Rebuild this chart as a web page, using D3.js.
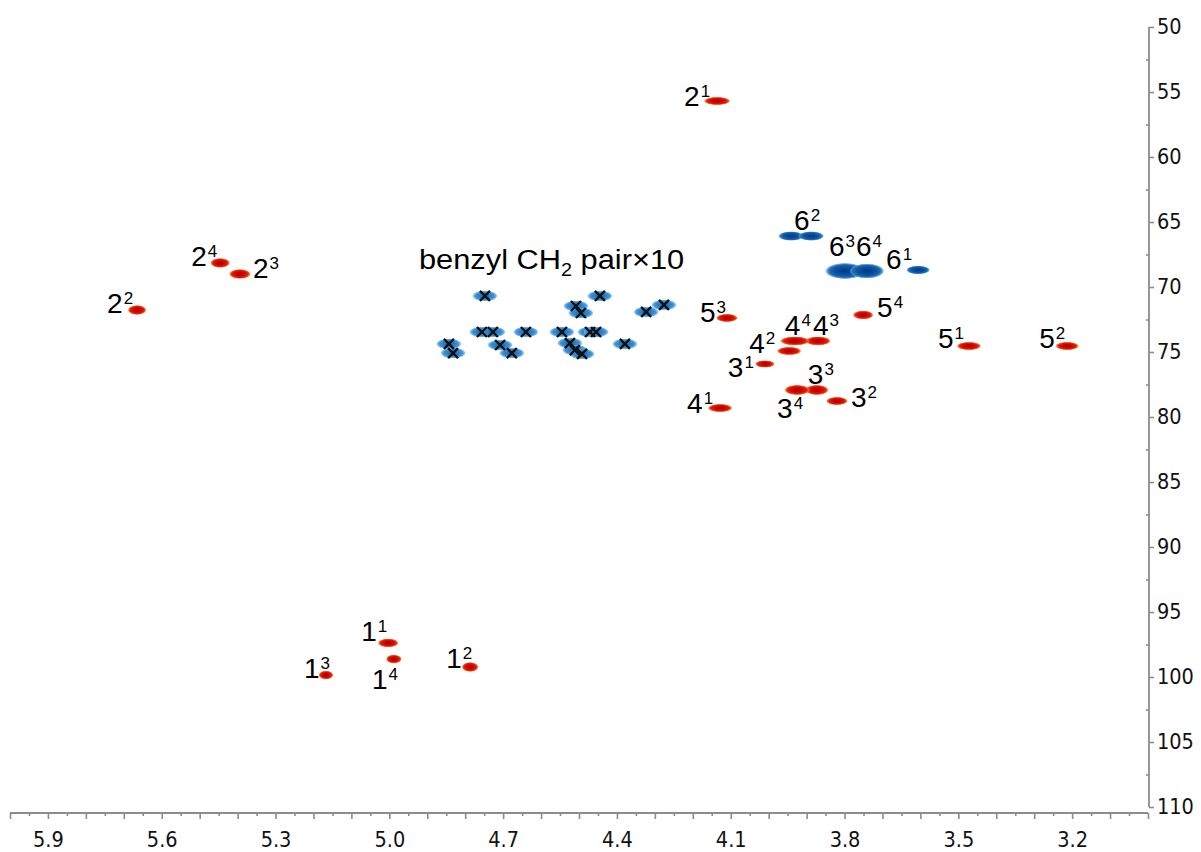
<!DOCTYPE html>
<html>
<head>
<meta charset="utf-8">
<script src="https://cdn.jsdelivr.net/npm/d3@7/dist/d3.min.js"></script>
<style>
  body { margin: 0; background: #fff; }
  svg { display: block; }
</style>
</head>
<body>
<svg id="chart" width="1201" height="852"></svg>
<script>
// ---- HSQC cross peaks (1H ppm, 13C ppm) ----
// ring CH cross peaks, named residue^unit
const ringNames = ["2^1","2^2","2^3","2^4","1^1","1^2","1^3","1^4",
                   "3^1","3^2","3^3","3^4","4^1","4^2","4^3","4^4",
                   "5^1","5^2","5^3","5^4"];
const ringH = [4.136, 5.665, 5.394, 5.446, 5.003, 4.787, 5.167, 4.988,
               4.010, 3.820, 3.873, 3.925, 4.128, 3.946, 3.870, 3.931,
               3.472, 3.213, 4.110, 3.751];
const ringC = [55.69, 71.77, 69.00, 68.15, 97.38, 99.23, 99.85, 98.62,
               75.92, 78.77, 77.92, 77.92, 79.31, 74.92, 74.15, 74.15,
               74.54, 74.54, 72.38, 72.15];

// CH2 (C6) cross peaks, 6^2 shows both protons
const c6Names = ["6^1","6^2","6^2","6^3","6^4"];
const c6H = [3.606, 3.941, 3.888, 3.799, 3.741];
const c6C = [68.69, 66.08, 66.08, 68.77, 68.77];

// benzyl CH2 protons (10 pairs)
const benzylH = [4.748, 4.445, 4.508, 4.495, 4.323, 4.276, 4.756, 4.727, 4.640, 4.545,
                 4.471, 4.455, 4.843, 4.832, 4.708, 4.677, 4.524, 4.511, 4.492, 4.379];
const benzylC = [70.69, 70.69, 71.46, 72.00, 71.92, 71.38, 73.46, 73.46, 73.46, 73.46,
                 73.46, 73.46, 74.38, 75.08, 74.46, 75.08, 74.31, 74.85, 75.15, 74.38];

// axis ticks
const xTickLabels = [5.9, 5.6, 5.3, 5.0, 4.7, 4.4, 4.1, 3.8, 3.5, 3.2];
const yTickLabels = [50, 55, 60, 65, 70, 75, 80, 85, 90, 95, 100, 105, 110];
const benzylNote = ["benzyl CH", "2", " pair×10"];

// ---- layout / styling ----
const W = 1201, H = 852;
const axisColor = "#8c8c8c";
const x = d3.scaleLinear().domain([6.0, 3.0]).range([10, 1148]);
const y = d3.scaleLinear().domain([50, 110]).range([27, 807]);
const xAxisY = 813, yAxisX = 1149;

// blob half-sizes in px
const blobSize = {
  "2^1":[13.5,4.2], "2^2":[9.5,5], "2^3":[11,5], "2^4":[10,5],
  "1^1":[10.5,4.5], "1^2":[8.5,5], "1^3":[7.5,4.5], "1^4":[8,4.5],
  "3^1":[10,3.8], "3^2":[11,4.2], "3^3":[12,5.2], "3^4":[13,5.2],
  "4^1":[12.5,4.2], "4^2":[12.5,4.2], "4^3":[13,4.6], "4^4":[15,4.6],
  "5^1":[12.5,4.2], "5^2":[12,4.2], "5^3":[11,4.2], "5^4":[10.5,4.5],
  "6^1":[12,4.4], "6^2":[13,4.8], "6^3":[20,8.2], "6^4":[17.5,7.6]
};
// label offset of main digit (start x, baseline) from the peak centre, px
const labelOffset = {
  "2^1":[-33,5], "2^4":[-29,3], "2^3":[13,4], "2^2":[-30,3],
  "1^1":[-27,-2], "1^4":[-22,30], "1^3":[-22,3], "1^2":[-24,1],
  "5^3":[-27,4], "5^4":[14,2], "4^4":[-10,-6], "4^3":[-5,-6],
  "4^2":[-40,2], "3^1":[-37,13], "3^3":[-9,-6], "3^4":[-20,28],
  "3^2":[14,6], "4^1":[-33,5], "5^1":[-31,2], "5^2":[-28,2],
  "6^2":[3,-6], "6^3":[-16,-15], "6^4":[-11,-15], "6^1":[-32,-1]
};

const svg = d3.select("#chart");
const defs = svg.append("defs");

function radial(id, stops) {
  const g = defs.append("radialGradient").attr("id", id)
    .attr("cx", "50%").attr("cy", "50%").attr("r", "50%");
  stops.forEach(s => g.append("stop").attr("offset", s[0])
    .attr("stop-color", s[1]).attr("stop-opacity", s[2]));
}
radial("gRed", [["0%","#a60000",1],["45%","#cf0700",1],["72%","#e81c00",1],
                ["88%","#f25a1e",0.85],["100%","#f8b070",0]]);
radial("gBlue6", [["0%","#003c86",1],["50%","#0b4f9c",1],["78%","#1c6bb6",1],
                  ["92%","#4f98d6",0.7],["100%","#8cc0ea",0]]);
radial("gBlueBz", [["0%","#1a5fae",1],["40%","#2a7cc6",1],["72%","#3d92d6",1],
                   ["88%","#6cb0e4",0.8],["100%","#a8d2f2",0]]);
defs.append("filter").attr("id", "soft")
  .attr("x", "-20%").attr("y", "-40%").attr("width", "140%").attr("height", "180%")
  .append("feGaussianBlur").attr("stdDeviation", 0.6);

// ---- axes ----
const axes = svg.append("g").attr("class", "axes");
const fontAxis = "'DejaVu Sans Condensed','DejaVu Sans',sans-serif";

// x axis: minor ticks every 0.05, longer every 0.1
const xMinor = d3.range(0, 61).map(i => +(6.0 - i * 0.05).toFixed(2));
const gx = axes.append("g").attr("transform", `translate(0,${xAxisY})`);
gx.append("line").attr("x1", x(6.0)).attr("x2", x(3.0))
  .attr("stroke", axisColor).attr("stroke-width", 1.8);
gx.call(d3.axisBottom(x).tickValues(xMinor.filter((v, i) => i % 2 === 1))
  .tickSize(3).tickSizeOuter(0).tickFormat(""));
gx.call(g => g.selectAll(".domain").remove());
const gx2 = axes.append("g").attr("transform", `translate(0,${xAxisY})`);
gx2.call(d3.axisBottom(x).tickValues(xMinor.filter((v, i) => i % 2 === 0))
  .tickSize(6).tickSizeOuter(0).tickFormat(""));
gx2.call(g => g.selectAll(".domain").remove());
const gxl = axes.append("g").attr("transform", `translate(0,${xAxisY})`);
gxl.call(d3.axisBottom(x).tickValues(xTickLabels).tickSize(0).tickPadding(19)
  .tickFormat(d3.format(".1f")));
gxl.call(g => g.selectAll(".domain").remove());
[gx, gx2].forEach(g => g.selectAll(".tick line").attr("stroke", axisColor).attr("stroke-width", 1.6));
gxl.selectAll("text").attr("font-family", fontAxis).attr("font-size", 21.5)
  .attr("fill", "#111");

// y axis on the right
const gy = axes.append("g").attr("transform", `translate(${yAxisX},0)`);
gy.append("line").attr("y1", y(50)).attr("y2", y(110))
  .attr("stroke", axisColor).attr("stroke-width", 1.8);
gy.call(d3.axisRight(y).tickValues(yTickLabels).tickSize(5).tickSizeOuter(0).tickPadding(3)
  .tickFormat(d3.format("d")));
gy.call(g => g.selectAll(".domain").remove());
gy.selectAll(".tick line").attr("stroke", axisColor).attr("stroke-width", 1.6);
gy.selectAll("text").attr("font-family", fontAxis).attr("font-size", 21.5).attr("fill", "#111");
const gyMinor = axes.append("g").attr("transform", `translate(${yAxisX},0)`);
gyMinor.call(d3.axisLeft(y).tickValues(d3.range(52.5, 110, 5)).tickSize(3)
  .tickSizeOuter(0).tickFormat(""));
gyMinor.call(g => g.selectAll(".domain").remove());
gyMinor.selectAll(".tick line").attr("stroke", axisColor).attr("stroke-width", 1.6);

// ---- peaks ----
const ring = ringNames.map((n, i) => ({ name: n, h: ringH[i], c: ringC[i] }));
const c6 = c6Names.map((n, i) => ({ name: n, h: c6H[i], c: c6C[i] }));
const benzyl = benzylH.map((h, i) => ({ h, c: benzylC[i] }));

const peaks = svg.append("g").attr("filter", "url(#soft)");
peaks.selectAll("ellipse.bz").data(benzyl).join("ellipse").attr("class", "bz")
  .attr("cx", d => x(d.h)).attr("cy", d => y(d.c))
  .attr("rx", 13).attr("ry", 5.6).attr("fill", "url(#gBlueBz)");
peaks.selectAll("ellipse.c6").data(c6).join("ellipse").attr("class", "c6")
  .attr("cx", d => x(d.h)).attr("cy", d => y(d.c))
  .attr("rx", d => blobSize[d.name][0]).attr("ry", d => blobSize[d.name][1])
  .attr("fill", "url(#gBlue6)");
peaks.selectAll("ellipse.ring").data(ring).join("ellipse").attr("class", "ring")
  .attr("cx", d => x(d.h)).attr("cy", d => y(d.c))
  .attr("rx", d => blobSize[d.name][0]).attr("ry", d => blobSize[d.name][1])
  .attr("fill", "url(#gRed)");

// cross marks on the benzyl CH2 peaks
const s = 5;
svg.append("g").selectAll("path").data(benzyl).join("path")
  .attr("d", d => {
    const cx = x(d.h), cy = y(d.c);
    return `M${cx - s},${cy - s}L${cx + s},${cy + s}M${cx - s},${cy + s}L${cx + s},${cy - s}`;
  })
  .attr("stroke", "#111").attr("stroke-width", 2.4).attr("fill", "none");

// ---- peak labels ----
const fontLabel = "'Liberation Sans',Arial,sans-serif";
const labelled = [];
const seen = new Set();
ring.concat(c6).forEach(p => { if (!seen.has(p.name)) { seen.add(p.name); labelled.push(p); } });
const lab = svg.append("g").attr("font-family", fontLabel).attr("fill", "#000");
lab.selectAll("text").data(labelled).join("text")
  .attr("x", d => x(d.h) + labelOffset[d.name][0])
  .attr("y", d => y(d.c) + labelOffset[d.name][1])
  .each(function (d) {
    const [main, sup] = d.name.split("^");
    const t = d3.select(this);
    t.append("tspan").attr("font-size", 28).text(main);
    t.append("tspan").attr("font-size", 17).attr("dx", 1).attr("dy", -9).text(sup);
  });

// ---- annotation ----
const noteX = 419, noteY = 269;
const note = svg.append("text").attr("font-family", fontLabel).attr("fill", "#000")
  .attr("x", 0).attr("y", 0).attr("font-size", 28)
  .attr("transform", `translate(${noteX},${noteY}) scale(1.1,1)`);
note.append("tspan").text(benzylNote[0]);
note.append("tspan").attr("font-size", 18).attr("dy", 7).text(benzylNote[1]);
note.append("tspan").attr("dy", -7).text(benzylNote[2]);
</script>
</body>
</html>
